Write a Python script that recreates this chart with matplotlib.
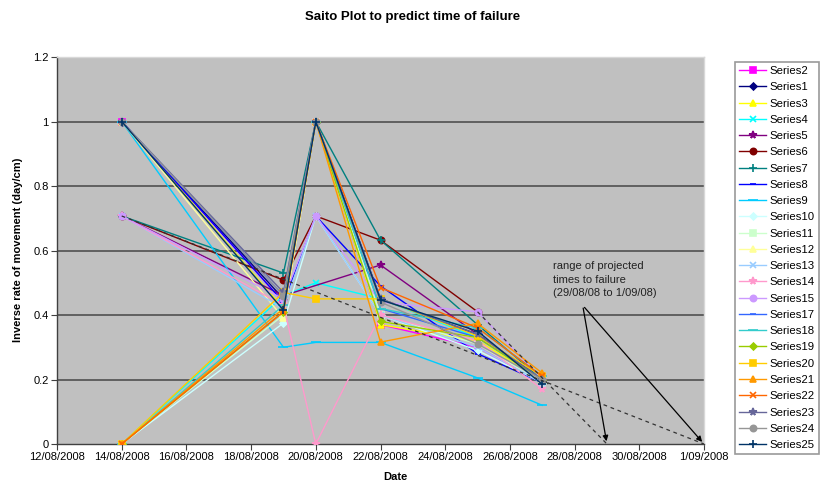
import matplotlib
matplotlib.use("Agg")
import matplotlib.pyplot as plt
import matplotlib.dates as mdates
import numpy as np
import pandas as pd

plt.rcParams['font.family'] = ['Liberation Sans', 'DejaVu Sans']

# ---------------- data ----------------
dates = ["2008-08-14", "2008-08-19", "2008-08-20", "2008-08-22", "2008-08-25", "2008-08-27"]
series_names = ["Series2", "Series1", "Series3", "Series4", "Series5", "Series6", "Series7",
                "Series8", "Series9", "Series10", "Series11", "Series12", "Series13",
                "Series14", "Series15", "Series17", "Series18", "Series19", "Series20",
                "Series21", "Series22", "Series23", "Series24", "Series25"]
nan = np.nan
s2 = [1.0, 0.44, 1.0, 0.37, 0.30, 0.19]
s1 = [1.0, 0.45, 1.0, 0.45, 0.34, 0.20]
s3 = [1.0, 0.42, 1.0, 0.37, 0.32, 0.20]
s4 = [0.0, 0.46, 0.50, 0.45, 0.33, 0.20]
s5 = [0.707, 0.46, nan, 0.555, 0.34, 0.20]
s6 = [0.707, 0.508, 0.707, 0.632, 0.41, nan]
s7 = [0.707, 0.53, 1.0, 0.632, 0.37, 0.20]
s8 = [1.0, 0.44, 0.707, 0.49, 0.28, 0.19]
s9 = [1.0, 0.30, 0.315, 0.315, 0.205, 0.12]
s10 = [0.0, 0.375, 0.707, 0.40, 0.29, 0.19]
s11 = [0.0, 0.40, 1.0, 0.40, 0.31, 0.19]
s12 = [1.0, 0.39, 1.0, 0.38, 0.33, 0.20]
s13 = [0.707, 0.42, 0.707, 0.40, 0.30, 0.19]
s14 = [0.707, 0.43, 0.0, 0.40, 0.32, 0.17]
s15 = [0.707, 0.45, 0.707, 0.44, 0.41, 0.20]
s17 = [1.0, 0.46, 1.0, 0.42, 0.33, 0.20]
s18 = [0.0, 0.43, 1.0, 0.42, 0.36, 0.21]
s19 = [0.0, 0.41, 1.0, 0.38, 0.33, 0.20]
s20 = [0.0, 0.47, 0.45, 0.45, 0.335, 0.21]
s21 = [0.0, 0.42, 1.0, 0.316, 0.374, 0.22]
s22 = [0.0, 0.41, 1.0, 0.485, 0.36, 0.21]
s23 = [1.0, 0.47, 1.0, 0.45, 0.34, 0.20]
s24 = [1.0, 0.46, 1.0, 0.44, 0.31, 0.20]
s25 = [1.0, 0.415, 1.0, 0.447, 0.35, 0.185]
series_values = [s2, s1, s3, s4, s5, s6, s7, s8, s9, s10, s11, s12, s13, s14, s15,
                 s17, s18, s19, s20, s21, s22, s23, s24, s25]

# projection (dashed) lines
proj1_dates = ["2008-08-14", "2008-09-01"]
proj1_vals = [0.707, 0.0]
proj2_dates = ["2008-08-25", "2008-08-29"]
proj2_vals = [0.41, 0.0]

x_ticks = pd.date_range("2008-08-12", "2008-09-01", freq="2D")
y_ticks = [0, 0.2, 0.4, 0.6, 0.8, 1.0, 1.2]

# ---------------- styles ----------------
colors = {"Series1": "#000080", "Series2": "#FF00FF", "Series3": "#FFFF00", "Series4": "#00FFFF",
          "Series5": "#800080", "Series6": "#800000", "Series7": "#008080", "Series8": "#0000FF",
          "Series9": "#00CCFF", "Series10": "#CCFFFF", "Series11": "#CCFFCC", "Series12": "#FFFF99",
          "Series13": "#99CCFF", "Series14": "#FF99CC", "Series15": "#CC99FF", "Series17": "#3366FF",
          "Series18": "#33CCCC", "Series19": "#99CC00", "Series20": "#FFCC00", "Series21": "#FF9900",
          "Series22": "#FF6600", "Series23": "#666699", "Series24": "#969696", "Series25": "#003366"}
markers = {"Series1": ("D", 3.5), "Series2": ("s", 4.5), "Series3": ("^", 4.5), "Series4": ("x", 4.5),
           "Series5": ("*", 5.5), "Series6": ("o", 4.5), "Series7": ("+", 6), "Series8": ("_", 4),
           "Series9": ("_", 7), "Series10": ("D", 3.5), "Series11": ("s", 4.5), "Series12": ("^", 4.5),
           "Series13": ("x", 4.5), "Series14": ("*", 5.5), "Series15": ("o", 4.5), "Series17": ("_", 4),
           "Series18": ("_", 7), "Series19": ("D", 3.5), "Series20": ("s", 4.5), "Series21": ("^", 4.5),
           "Series22": ("x", 4.5), "Series23": ("*", 5.5), "Series24": ("o", 4.5), "Series25": ("+", 6)}

fig = plt.figure(figsize=(8.25, 4.84), dpi=100)
ax = fig.add_axes([57 / 825, 1 - 444 / 484, (704 - 57) / 825, (444 - 57) / 484])
ax.set_facecolor("#C0C0C0")

xd = pd.to_datetime(dates)
for name, vals in zip(series_names, series_values):
    v = np.array(vals, dtype=float)
    m = ~np.isnan(v)
    mk, ms = markers[name]
    ax.plot(xd[m], v[m], color=colors[name], lw=1.0, marker=mk, markersize=ms,
            markeredgewidth=1.2, label=name, zorder=3)

ax.plot(pd.to_datetime(proj1_dates), proj1_vals, ls=(0, (3, 3)), color="#333333", lw=0.9, zorder=4)
ax.plot(pd.to_datetime(proj2_dates), proj2_vals, ls=(0, (3, 3)), color="#333333", lw=0.9, zorder=4)

# annotation
txt_x = pd.Timestamp("2008-08-27 08:00")
ax.text(txt_x, 0.567, "range of projected\ntimes to failure\n(29/08/08 to 1/09/08)",
        fontsize=8, va="top", ha="left", color="#222222", linespacing=1.45)
origin = (mdates.date2num(pd.Timestamp("2008-08-28 06:00")), 0.43)
for tgt in ["2008-08-29", "2008-09-01"]:
    ax.annotate("", xy=(mdates.date2num(pd.Timestamp(tgt)), 0.0), xytext=origin,
                arrowprops=dict(arrowstyle="-|>", color="black", lw=0.9, mutation_scale=8),
                zorder=5, annotation_clip=False)

ax.set_xlim(pd.Timestamp("2008-08-12"), pd.Timestamp("2008-09-01"))
ax.set_ylim(0, 1.2)
ax.set_xticks(x_ticks)
ax.set_xticklabels([f"{d.day}/{d.month:02d}/{d.year}" for d in x_ticks], fontsize=8)
ax.set_yticks(y_ticks)
ax.set_yticklabels(["0", "0.2", "0.4", "0.6", "0.8", "1", "1.2"], fontsize=8)
for yv in y_ticks[1:-1]:
    ax.axhline(yv, color="#505050", lw=1.2, zorder=1)
ax.tick_params(axis="both", direction="out", length=4, color="#404040", pad=2)
for s in ["left", "bottom"]:
    ax.spines[s].set_color("#404040")
    ax.spines[s].set_linewidth(1.0)
for s in ["top", "right"]:
    ax.spines[s].set_color("#D8D8D8")
    ax.spines[s].set_linewidth(1.0)

fig.text(0.5, 1 - 17 / 484, "Saito Plot to predict time of failure", ha="center", va="center",
         fontsize=9.5, fontweight="bold")
fig.text(395 / 825, 1 - 477 / 484, "Date", ha="center", va="center", fontsize=8, fontweight="bold")
fig.text(18 / 825, 1 - 250 / 484, "Inverse rate of movement (day/cm)", ha="center", va="center",
         rotation=90, fontsize=8, fontweight="bold")

leg = fig.legend(loc="upper left", bbox_to_anchor=(735 / 825, 1 - 62 / 484), bbox_transform=fig.transFigure,
                 fontsize=8.2, frameon=True, fancybox=False, edgecolor="#808080", labelspacing=0.55,
                 handlelength=2.4, handletextpad=0.3, borderpad=0.35, borderaxespad=0)
leg.get_frame().set_linewidth(1.2)

fig.savefig("out.png", dpi=100)
